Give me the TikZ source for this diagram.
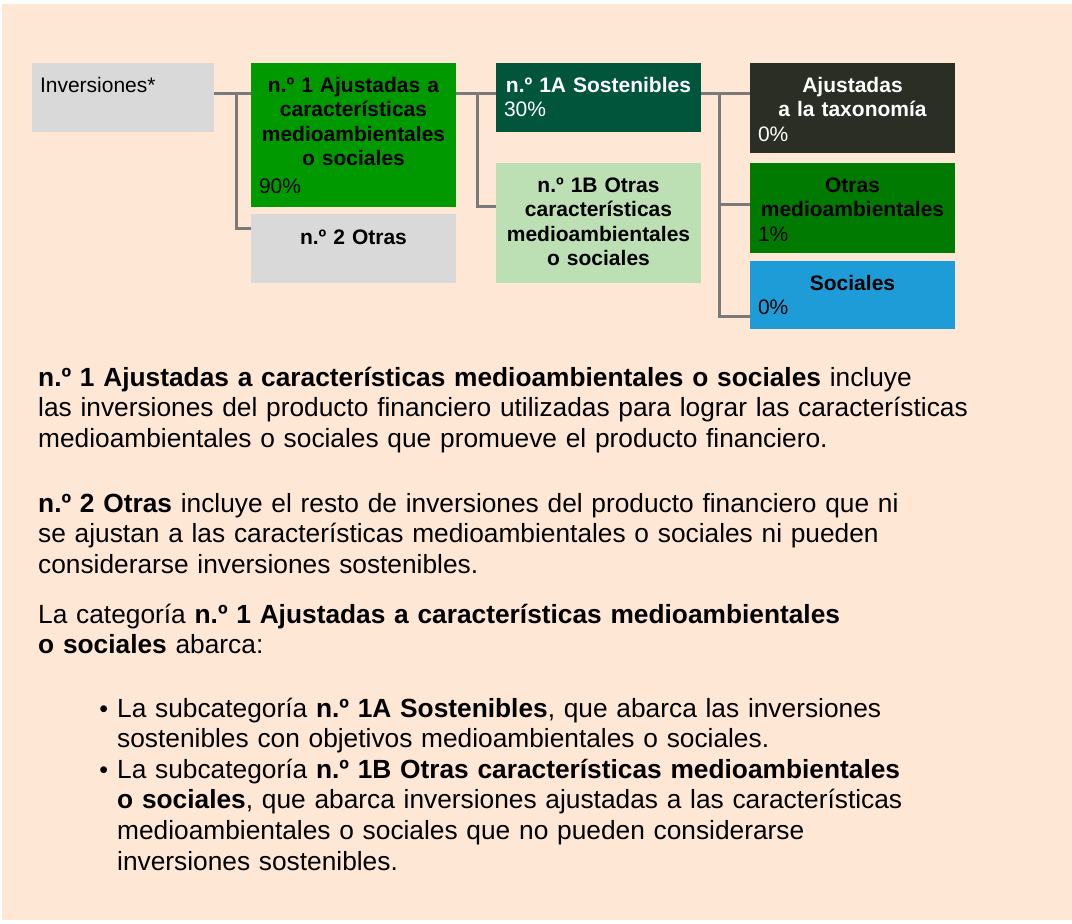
\documentclass[tikz,border=0pt]{standalone}
\usepackage{fontspec}
\setmainfont{Liberation Sans}
\usepackage{xcolor}
\definecolor{bgpeach}{HTML}{FFE7D6}
\definecolor{boxgray}{HTML}{D9D9D9}
\definecolor{linegray}{HTML}{7A7A7A}
\definecolor{carbright}{HTML}{009900}
\definecolor{sostdark}{HTML}{00553A}
\definecolor{otraslight}{HTML}{BCE0B4}
\definecolor{taxdark}{HTML}{2B2E25}
\definecolor{mediogreen}{HTML}{007A00}
\definecolor{socblue}{HTML}{1E9CD7}
\usepackage{tikz}
\usetikzlibrary{positioning}
\newcommand{\boxfont}{\fontsize{21pt}{24.5pt}\selectfont}
\newcommand{\bodyfont}{\fontsize{26.3pt}{30.8pt}\selectfont}
\newcommand{\bulletfont}{\fontsize{25pt}{25pt}\selectfont}
\tikzset{
  cbox/.style ={rectangle, anchor=north west, inner xsep=8pt, inner ysep=0pt,
                outer sep=0pt, text height=29pt, font=\boxfont},
  gbox/.style ={cbox, fill=boxgray},
  conn/.style ={draw=linegray, line width=3pt},
  body/.style ={anchor=base west, inner sep=0pt, text width=990pt, align=left,
                font=\bodyfont},
}

\begin{document}
\begin{tikzpicture}[x=1pt, y=-1pt]
  \useasboundingbox (0,0) rectangle (1072,924);
  \fill[bgpeach] (2,4) rectangle (1072,920);

  % tree of categories
  \node[gbox, text width=166pt, text depth=40pt] (inv) at (32,63) {Inversiones*};
  \node[cbox, fill=carbright, text width=189pt, text depth=115pt,
        right=37pt of inv.north east, anchor=north west] (n1)
        {{\centering\bfseries n.º 1 Ajustadas a\\características\\medioambientales\\o sociales\par}\vspace{3pt}90\%};
  \node[gbox, text width=189pt, text depth=39pt, text height=30pt,
        below=7pt of n1.south west, anchor=north west] (n2)
        {{\centering\bfseries n.º 2 Otras\par}};
  \node[cbox, fill=sostdark, text=white, text width=189pt, text depth=40pt,
        right=40pt of n1.north east, anchor=north west] (s1a)
        {{\centering\bfseries n.º 1A Sostenibles\par}30\%};
  \node[cbox, fill=otraslight, text width=189pt, text depth=91pt,
        below=31pt of s1a.south west, anchor=north west] (s1b)
        {{\centering\bfseries n.º 1B Otras\\características\\medioambientales\\o sociales\par}};
  \node[cbox, fill=taxdark, text=white, text width=189pt, text depth=61pt,
        right=49pt of s1a.north east, anchor=north west] (tax)
        {{\centering\bfseries Ajustadas\\a la taxonomía\par}0\%};
  \node[cbox, fill=mediogreen, text width=189pt, text depth=61pt,
        below=10pt of tax.south west, anchor=north west] (oma)
        {{\centering\bfseries Otras\\medioambientales\par}1\%};
  \node[cbox, fill=socblue, text width=189pt, text depth=39pt,
        below=8pt of oma.south west, anchor=north west] (soc)
        {{\centering\bfseries Sociales\par}0\%};

  % connectors
  \draw[conn] ([yshift=-30pt]inv.north east) -- ([yshift=-30pt]n1.north west);
  \draw[conn] ([xshift=22pt,yshift=-30pt]inv.north east) |- ([yshift=-14pt]n2.north west);
  \draw[conn] ([yshift=-30pt]n1.north east) -- ([yshift=-30pt]s1a.north west);
  \draw[conn] ([xshift=21pt,yshift=-30pt]n1.north east) |- ([yshift=-43pt]s1b.north west);
  \draw[conn] ([yshift=-30pt]s1a.north east) -- ([yshift=-30pt]tax.north west);
  \draw[conn] ([xshift=18pt,yshift=-30pt]s1a.north east) |- ([yshift=-55pt]soc.north west);
  \draw[conn] ([yshift=-41pt]oma.north west) -| ([xshift=18pt,yshift=-30pt]s1a.north east);

  % explanatory text
  \node[body] (p1) at (38,386)
    {\textbf{n.º 1 Ajustadas a características medioambientales o sociales} incluye\\
     las inversiones del producto financiero utilizadas para lograr las características\\
     medioambientales o sociales que promueve el producto financiero.};
  \node[body] (p2) at (38,512)
    {\textbf{n.º 2 Otras} incluye el resto de inversiones del producto financiero que ni\\
     se ajustan a las características medioambientales o sociales ni pueden\\
     considerarse inversiones sostenibles.};
  \node[body] (p3) at (38,623)
    {La categoría \textbf{n.º 1 Ajustadas a características medioambientales}\\
     \textbf{o sociales} abarca:};
  \node[body, text width=930pt] (b1) at (117,717)
    {\llap{{\bulletfont •}\hspace{9pt}}La subcategoría \textbf{n.º 1A Sostenibles}, que abarca las inversiones\\
     sostenibles con objetivos medioambientales o sociales.};
  \node[body, text width=930pt] (b2) at (117,778)
    {\llap{{\bulletfont •}\hspace{9pt}}La subcategoría \textbf{n.º 1B Otras características medioambientales}\\
     \textbf{o sociales}, que abarca inversiones ajustadas a las características\\
     medioambientales o sociales que no pueden considerarse\\
     inversiones sostenibles.};
\end{tikzpicture}
\end{document}
